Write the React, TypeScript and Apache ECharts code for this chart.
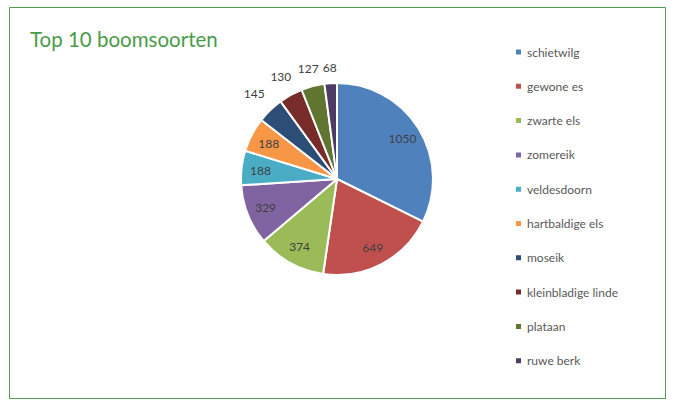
import React, { useEffect, useRef } from "react";
import * as echarts from "echarts";

const categories = [
  "schietwilg",
  "gewone es",
  "zwarte els",
  "zomereik",
  "veldesdoorn",
  "hartbaldige els",
  "moseik",
  "kleinbladige linde",
  "plataan",
  "ruwe berk",
];
const values = [1050, 649, 374, 329, 188, 188, 145, 130, 127, 68];
const colors = [
  "#4F81BD",
  "#C0504D",
  "#9BBB59",
  "#8064A2",
  "#4BACC6",
  "#F79646",
  "#2C4D75",
  "#772C2A",
  "#5F7530",
  "#4D3B62",
];
const insideCount = 6;
// distance of each outside label from the centre (px)
const outsideLabelRadius = [116, 113.5, 111, 109];

const FONT = "Lato";

export default function App() {
  const ref = useRef<HTMLDivElement>(null);
  useEffect(() => {
    if (!ref.current) return;
    const chart = echarts.init(ref.current, null, { renderer: "svg" });
    const center = [337, 179];
    const labelStyle = {
      formatter: "{c}",
      fontFamily: FONT,
      fontSize: 12,
      color: "#404040",
    };
    const overlay = (radius: number[], showFn: (i: number) => boolean) => ({
      type: "pie",
      center,
      radius,
      startAngle: 90,
      clockwise: true,
      silent: true,
      avoidLabelOverlap: false,
      itemStyle: { color: "rgba(0,0,0,0)", borderWidth: 0 },
      labelLine: { show: false },
      data: categories.map((name, i) => ({
        name,
        value: values[i],
        itemStyle: { color: "rgba(0,0,0,0)" },
        label: { show: showFn(i), position: "inside", ...labelStyle },
      })),
    });
    chart.setOption({
      animation: false,
      backgroundColor: "#ffffff",
      color: colors,
      title: {
        text: "Top 10 boomsoorten",
        left: 25,
        top: 23,
        textStyle: {
          fontFamily: FONT,
          fontSize: 20.5,
          fontWeight: "normal",
          color: "#4a9c4a",
        },
      },
      legend: {
        orient: "vertical",
        left: 509,
        top: 41,
        height: 360,
        itemWidth: 7,
        itemHeight: 7,
        itemGap: 22.3,
        icon: "rect",
        textStyle: { fontFamily: FONT, fontSize: 12, color: "#595959" },
        data: categories,
      },
      graphic: [
        {
          type: "rect",
          shape: { x: 9.5, y: 7.5, width: 656, height: 391 },
          style: { fill: "none", stroke: "#4f9f4f", lineWidth: 1 },
          silent: true,
        },
      ],
      series: [
        {
          type: "pie",
          center,
          radius: [0, 96],
          startAngle: 90,
          clockwise: true,
          avoidLabelOverlap: false,
          itemStyle: { borderColor: "#ffffff", borderWidth: 2 },
          label: { show: false },
          labelLine: { show: false },
          data: categories.map((name, i) => ({
            name,
            value: values[i],
            itemStyle: { color: colors[i] },
          })),
        },
        overlay([0, 148], (i) => i < insideCount),
        ...outsideLabelRadius.map((r, k) =>
          overlay([0, r * 2], (i) => i === insideCount + k)
        ),
      ],
    });
    return () => chart.dispose();
  }, []);
  return (
    <div
      ref={ref}
      style={{ position: "absolute", left: 0, top: 0, width: 676, height: 412 }}
    />
  );
}
